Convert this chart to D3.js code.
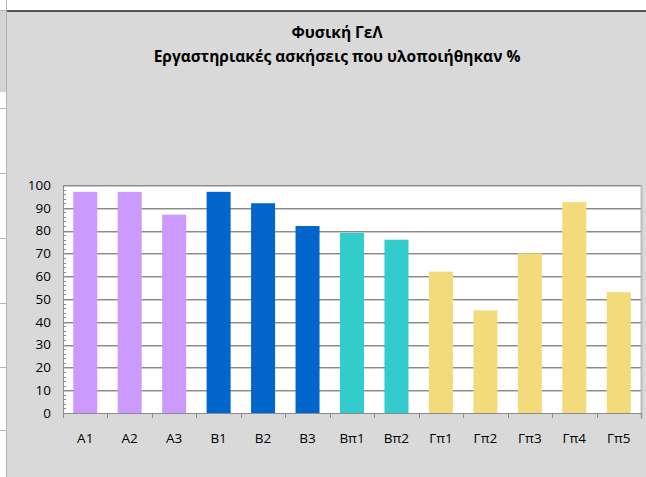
<!DOCTYPE html>
<html>
<head>
<meta charset="utf-8">
<script src="https://cdn.jsdelivr.net/npm/d3@7"></script>
<style>
  body { margin: 0; background: #fff; }
  svg { display: block; font-family: "Open Sans", "Noto Sans", sans-serif; }
</style>
</head>
<body>
<div id="chart"></div>
<script>
// chart values
const categories = ["A1", "A2", "A3", "B1", "B2", "B3", "Bπ1", "Bπ2", "Γπ1", "Γπ2", "Γπ3", "Γπ4", "Γπ5"];
const values = [97, 97, 87, 97, 92, 82, 79, 76, 62, 45, 70, 92.5, 53];
const groups = ["A", "A", "A", "B", "B", "B", "Bp", "Bp", "Gp", "Gp", "Gp", "Gp", "Gp"];
const yTicks = [0, 10, 20, 30, 40, 50, 60, 70, 80, 90, 100];
const titleLines = ["Φυσική ΓεΛ", "Εργαστηριακές ασκήσεις που υλοποιήθηκαν %"];

const W = 646, H = 477;
const plot = { left: 63, right: 641, top: 185, bottom: 413 };

const svg = d3.select("#chart").append("svg")
    .attr("width", W)
    .attr("height", H);

// spreadsheet bits around the chart
svg.append("rect").attr("x", 0).attr("y", 10).attr("width", 6).attr("height", 82).attr("fill", "#d4d4d4");
svg.append("line").attr("x1", 6.5).attr("x2", 6.5).attr("y1", 0).attr("y2", H).attr("stroke", "#b4b4b4");
[10, 108, 173, 238, 303, 367, 430].forEach(y => {
    svg.append("line").attr("x1", 0).attr("x2", 6).attr("y1", y + 0.5).attr("y2", y + 0.5).attr("stroke", "#b4b4b4");
});

// chart area
svg.append("rect")
    .attr("x", 7).attr("y", 11)
    .attr("width", W - 7).attr("height", H - 11)
    .attr("fill", "#d9d9d9");
svg.append("line")
    .attr("x1", 7).attr("x2", W).attr("y1", 11).attr("y2", 11)
    .attr("stroke", "#222").attr("stroke-width", 1.5);

// title
svg.append("g").selectAll("text")
    .data(titleLines)
    .enter().append("text")
    .attr("x", 337)
    .attr("y", (d, i) => 38 + i * 24)
    .attr("text-anchor", "middle")
    .attr("font-size", 15.5)
    .attr("font-weight", "bold")
    .attr("fill", "#000")
    .text(d => d);

const x = d3.scaleBand()
    .domain(categories)
    .range([plot.left, plot.right])
    .paddingInner(0.46)
    .paddingOuter(0.23);

const y = d3.scaleLinear()
    .domain([0, 100])
    .range([plot.bottom, plot.top]);

const color = d3.scaleOrdinal()
    .domain(["A", "B", "Bp", "Gp"])
    .range(["#cc99ff", "#0066cc", "#33cccc", "#f3da7b"]);

// plot area
svg.append("rect")
    .attr("x", plot.left).attr("y", plot.top)
    .attr("width", plot.right - plot.left).attr("height", plot.bottom - plot.top)
    .attr("fill", "#fff");
svg.append("line")
    .attr("x1", plot.right + 0.5).attr("x2", plot.right + 0.5)
    .attr("y1", plot.top).attr("y2", plot.bottom + 6)
    .attr("stroke", "#bdbdbd").attr("stroke-width", 2);

// gridlines (dark line + light shadow)
const grid = svg.append("g");
grid.selectAll("line.g1")
    .data(yTicks.slice(1))
    .enter().append("line")
    .attr("class", "g1")
    .attr("x1", plot.left).attr("x2", plot.right)
    .attr("y1", d => Math.round(y(d)) + 0.5).attr("y2", d => Math.round(y(d)) + 0.5)
    .attr("stroke", "#8c8c8c");
grid.selectAll("line.g2")
    .data(yTicks.slice(1))
    .enter().append("line")
    .attr("class", "g2")
    .attr("x1", plot.left).attr("x2", plot.right)
    .attr("y1", d => Math.round(y(d)) + 1.5).attr("y2", d => Math.round(y(d)) + 1.5)
    .attr("stroke", "#c8c8c8");

// bars
svg.append("g")
    .selectAll("rect")
    .data(categories)
    .enter().append("rect")
    .attr("x", d => x(d))
    .attr("y", (d, i) => y(values[i]))
    .attr("width", x.bandwidth())
    .attr("height", (d, i) => plot.bottom - y(values[i]))
    .attr("fill", (d, i) => color(groups[i]));

// y axis
const yAxis = svg.append("g")
    .attr("transform", `translate(${plot.left},0)`)
    .call(d3.axisLeft(y).tickValues(yTicks).tickSize(0).tickPadding(12));
yAxis.select(".domain").attr("stroke", "#8c8c8c");
yAxis.selectAll("text")
    .attr("font-family", "\"Open Sans\", sans-serif")
    .attr("font-size", 13.5)
    .attr("fill", "#000");

// minor ticks every 2
svg.append("g")
    .selectAll("line")
    .data(d3.range(2, 100, 2).filter(v => v % 10 !== 0))
    .enter().append("line")
    .attr("x1", plot.left).attr("x2", plot.left + 3)
    .attr("y1", d => Math.round(y(d)) + 0.5).attr("y2", d => Math.round(y(d)) + 0.5)
    .attr("stroke", "#8c8c8c");

// x axis
const xAxis = svg.append("g")
    .attr("transform", `translate(0,${plot.bottom})`)
    .call(d3.axisBottom(x).tickSize(0).tickPadding(20));
xAxis.select(".domain").remove();
xAxis.selectAll("text")
    .attr("font-family", "\"Open Sans\", sans-serif")
    .attr("font-size", 13.5)
    .attr("fill", "#000");
svg.append("line")
    .attr("x1", plot.left).attr("x2", plot.right)
    .attr("y1", plot.bottom + 0.5).attr("y2", plot.bottom + 0.5)
    .attr("stroke", "#8c8c8c");
const step = (plot.right - plot.left) / categories.length;
svg.append("g")
    .selectAll("line")
    .data(d3.range(categories.length + 1))
    .enter().append("line")
    .attr("x1", i => Math.round(plot.left + i * step) + 0.5)
    .attr("x2", i => Math.round(plot.left + i * step) + 0.5)
    .attr("y1", plot.bottom).attr("y2", plot.bottom + 5)
    .attr("stroke", "#8c8c8c");
</script>
</body>
</html>
